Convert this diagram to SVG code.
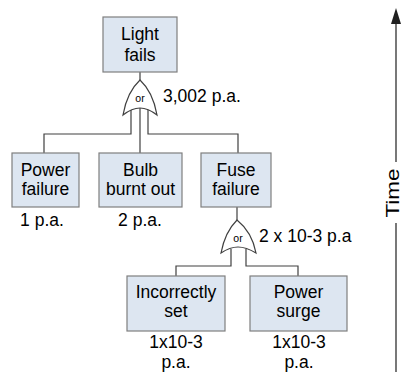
<svg xmlns="http://www.w3.org/2000/svg" width="402" height="372" viewBox="0 0 402 372">
<style>
.box{fill:#dde6f1;stroke:#7f7f7f;stroke-width:1.2}
.t{font-family:"Liberation Sans",Arial,sans-serif;font-size:17.5px;fill:#000;text-anchor:middle}
.l{font-family:"Liberation Sans",Arial,sans-serif;font-size:17.5px;fill:#000}
.or{font-family:"Liberation Sans",Arial,sans-serif;font-size:10.5px;fill:#000;text-anchor:middle}
.c{fill:none;stroke:#404040;stroke-width:1.2}
.gate{fill:#fff;stroke:#404040;stroke-width:1.2}
</style>
<rect width="402" height="372" fill="#fff"/>
<g id="connectors">
<path class="c" d="M140,72V80"/>
<path class="c" d="M131,110V134H44V153"/>
<path class="c" d="M140,108V153"/>
<path class="c" d="M148,110V134H238V153"/>
<path class="c" d="M237,207V220"/>
<path class="c" d="M231,249V266H176V276"/>
<path class="c" d="M246,249V266H298V276"/>
</g>
<g id="gate-or-1">
<path class="gate" d="M140,80Q127,92 123,115Q132,108 140,108Q148,108 157,115Q153,92 140,80Z"/>
<text class="or" x="140" y="102">or</text>
<text class="l" x="163" y="102">3,002 p.a.</text>
</g>
<g id="gate-or-2">
<path class="gate" d="M237,220Q225,232 221,253Q230,247 238,247Q246,247 256,253Q252,232 237,220Z"/>
<text class="or" x="238" y="242">or</text>
<text class="l" x="259" y="242">2 x 10-3 p.a</text>
</g>
<g id="light-fails">
<rect class="box" x="103" y="17" width="74" height="55"/>
<text class="t" x="140" y="40">Light</text>
<text class="t" x="140" y="61">fails</text>
</g>
<g id="power-failure">
<rect class="box" x="12" y="153" width="67" height="54"/>
<text class="t" x="45.5" y="176">Power</text>
<text class="t" x="45.5" y="195">failure</text>
<text class="t" x="42" y="226">1 p.a.</text>
</g>
<g id="bulb-burnt-out">
<rect class="box" x="99" y="153" width="83" height="54"/>
<text class="t" x="140.5" y="176">Bulb</text>
<text class="t" x="140.5" y="195">burnt out</text>
<text class="t" x="140" y="226">2 p.a.</text>
</g>
<g id="fuse-failure">
<rect class="box" x="201" y="153" width="70" height="54"/>
<text class="t" x="236" y="176">Fuse</text>
<text class="t" x="236" y="195">failure</text>
</g>
<g id="incorrectly-set">
<rect class="box" x="127" y="276" width="98" height="55"/>
<text class="t" x="176" y="298">Incorrectly</text>
<text class="t" x="176" y="317">set</text>
<text class="t" x="176" y="348">1x10-3</text>
<text class="t" x="176" y="368">p.a.</text>
</g>
<g id="power-surge">
<rect class="box" x="250" y="276" width="97" height="55"/>
<text class="t" x="298.5" y="298">Power</text>
<text class="t" x="298.5" y="317">surge</text>
<text class="t" x="299" y="348">1x10-3</text>
<text class="t" x="299" y="368">p.a.</text>
</g>
<g id="time-axis">
<path d="M396,372V223M396,162V22" fill="none" stroke="#202020" stroke-width="1.2"/>
<path d="M396,8L391,24H401Z" fill="#202020"/>
<text class="t" transform="translate(398.5,193) rotate(-90)" textLength="49" lengthAdjust="spacingAndGlyphs">Time</text>
</g>
</svg>
